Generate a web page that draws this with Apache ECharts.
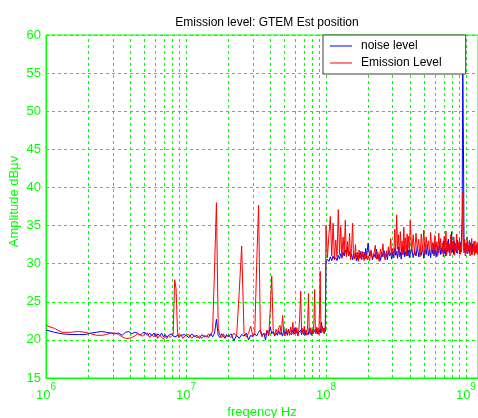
<!DOCTYPE html>
<html><head><meta charset="utf-8">
<script src="https://cdn.jsdelivr.net/npm/echarts@6/dist/echarts.min.js"></script>
<style>html,body{margin:0;padding:0;background:#fff}#c{width:478px;height:418px}</style>
</head><body><div id="c"></div>
<script>
// ---- data (frequencies in MHz, levels in dBµV) ----
const freq1 = [1.0,1.15,1.3,1.5,1.7,1.9,2.1,2.3,2.5,2.7,2.9,3.1,3.3,3.5,3.7,3.9,4.1,4.3,4.5,4.7,4.9,5.1,5.3,5.5,5.7,5.9,6.1,6.3,6.5,6.7,6.9,7.1,7.3,7.5,7.7,7.9,8.1,8.3,8.5,8.7,8.9,9.2,9.5,9.8];
const noise1 = [21.3,21.0,20.8,20.7,20.7,20.7,20.9,21.0,21.1,21.0,20.9,20.8,20.9,20.6,21.0,21.1,20.8,21.0,20.9,20.6,20.9,21.0,20.6,20.9,20.5,20.9,20.4,20.8,20.5,20.9,20.4,20.7,20.3,20.6,20.4,20.8,20.5,20.6,20.4,20.7,20.3,20.6,20.4,20.7];
const emis1 = [21.9,21.5,21.0,21.0,21.1,21.0,20.8,20.6,20.6,20.7,20.9,20.9,20.7,20.4,20.2,20.2,20.3,20.5,20.8,20.7,20.5,20.8,20.9,20.3,20.7,20.4,20.8,20.2,20.6,20.4,20.1,20.5,20.2,20.6,20.3,20.5,20.7,27.9,26.7,21.0,20.4,20.7,20.2,20.5];

const freq2 = [10,10.5,11,11.5,12,12.5,13,13.5,14,14.5,15,15.5,16,16.5,17,17.5,18,18.5,19,19.5];
const noise2 = [20.5,20.3,20.8,20.4,20.6,20.2,20.7,20.4,20.5,20.3,20.8,20.4,20.9,22.7,20.6,20.3,20.8,20.5,20.2,20.7];
const emis2 = [20.4,20.7,20.2,20.6,20.3,20.5,20.2,20.6,20.4,20.8,20.5,21.2,29.3,38.0,21.5,20.6,20.3,20.8,20.4,20.6];

const freq3 = [20,21,22,23,24,25,26,27,28,29,30,31,32,33,34,35,36,37,38,39,40,41,42,43,44,45,46,47,48,49,50,51,52,53,54,55,56,57,58,59,60,61,62,63,64,65,66,67,68,69,70,71,72,73,74,75,76,77,78,79,80,81,82,83,84,85,86,87,88,89,90,91,92,93,94,95,96,97,98,99];
const noise3 = [20.4,20.8,19.9,20.6,20.2,20.7,20.5,20.9,20.0,20.6,
  20.4,20.8,20.5,21.0,21.3,20.6,20.9,20.0,21.2,20.7,
  21.7,20.8,21.1,20.5,20.9,20.6,21.2,20.7,21.0,20.5,
  21.3,20.8,21.1,20.6,21.4,20.9,21.0,20.7,21.3,20.8,
  21.6,20.9,21.2,20.6,21.0,20.8,21.3,20.7,21.1,20.9,
  21.4,20.6,21.0,20.8,21.2,20.7,21.5,20.9,21.1,20.6,
  21.3,20.8,21.0,20.7,21.4,20.9,21.2,20.8,21.5,21.0,
  21.3,20.9,21.6,22.3,21.2,21.0,21.5,20.9,21.4,21.1];
const emis3 = [20.6,20.3,20.9,20.5,26.2,32.3,20.8,20.4,20.9,21.8,
  20.5,20.8,29.9,37.7,21.0,20.4,20.9,20.6,21.3,20.5,
  24.0,28.4,21.2,20.6,21.4,20.8,21.6,21.9,20.7,23.2,
  21.0,20.5,21.5,20.8,21.3,20.6,21.7,20.9,22.3,20.7,
  21.4,20.8,21.6,20.5,21.2,23.0,26.4,21.0,21.5,20.7,
  21.8,20.9,21.3,20.6,22.0,26.1,21.1,20.8,21.6,20.7,
  21.4,20.9,22.2,26.6,21.3,20.8,21.7,21.0,21.5,20.7,
  24.0,29.0,21.4,20.9,21.8,21.1,21.5,20.8,21.6,21.2];

const freq4 = [100,102.5,105,107.5,110,112.5,115,117.5,120,122.5,125,127.5,130,132.5,135,137.5,140,142.5,145,147.5,150,152.5,155,157.5,160,162.5,165,167.5,170,172.5,175,177.5,180,182.5,185,187.5,190,192.5,195,197.5];
const noise4 = [30.2,30.6,30.3,30.9,30.4,31.0,30.5,30.8,30.4,31.1,
  30.6,31.3,30.8,31.5,31.0,31.8,31.2,32.2,31.0,31.6,
  30.7,31.3,30.5,31.1,30.6,31.4,30.4,31.0,30.5,31.3,
  30.7,31.6,30.9,31.2,30.6,31.5,31.0,32.0,30.8,31.7];
const emis4 = [35.0,30.8,33.8,36.2,31.0,35.3,30.6,33.1,30.9,37.1,
  31.2,34.9,30.7,33.5,31.4,35.7,30.9,32.9,31.1,34.0,
  30.5,32.0,35.3,31.0,30.6,32.5,30.8,31.5,30.3,31.8,
  30.7,31.3,30.5,31.6,30.9,30.4,31.4,30.6,31.2,30.5];

const freq5 = [200,205,210,215,220,225,230,235,240,245,250,255,260,265,270,275,280,285,290,295,300,305,310,315,320,325,330,335,340,345,350,355,360,365,370,375,380,385,390,395];
const noise5 = [32.7,31.0,31.6,30.5,31.3,30.8,31.9,30.6,31.2,30.4,
  31.5,30.9,31.7,30.7,31.3,30.5,31.8,31.0,31.4,30.6,
  31.5,30.8,32.0,31.1,31.6,30.7,32.2,31.0,31.5,30.6,
  31.9,31.2,32.3,30.9,31.6,31.1,32.4,31.0,31.8,30.8];
const emis5 = [31.0,30.4,31.8,30.7,31.2,32.4,30.6,31.5,30.3,31.9,
  30.8,32.6,31.1,30.5,31.7,30.9,32.2,31.0,33.3,31.2,
  32.0,30.8,34.5,31.4,36.4,31.9,33.8,30.9,34.2,31.5,
  33.0,31.2,34.8,31.7,33.4,31.0,33.9,32.0,33.6,31.3];

const freq6 = [400,410,420,430,440,450,460,470,480,490,500,510,520,530,540,550,560,570,580,590,600,610,620,630,640,650,660,670,680,690,700,710,720,730,740,750,760,770,780,790,800,810,820,830,840,850,860,870,880,890,900,910,920,930,940,950,960,970,980,990,1000,1010,1020,1030,1040,1050,1060,1070,1080,1090,1100,1110,1120,1130,1140,1150,1160,1170,1180,1190,1200,1210,1220];
const noise6 = [31.2,32.0,30.8,31.7,31.0,32.3,30.9,31.5,31.1,32.4,
  30.7,31.8,31.2,32.5,31.0,31.9,30.8,32.2,31.3,32.6,
  31.1,31.7,30.9,32.3,31.4,32.8,31.2,32.0,31.5,33.0,
  31.3,32.1,31.0,32.7,31.6,33.2,31.4,32.4,31.8,34.2,
  31.5,32.6,31.2,32.9,31.7,32.3,31.4,33.1,31.9,32.5,
  31.3,32.8,31.6,33.4,36.0,56.5,45.6,32.2,31.5,32.7,
  31.8,32.4,31.3,32.9,31.6,32.2,31.4,32.8,31.7,32.3,
  31.2,32.6,31.5,32.1,31.8,32.5,31.3,32.0,31.7,32.4,
  31.5,32.2,31.6];
const emis6 = [35.7,31.5,33.8,31.2,34.0,31.8,33.2,30.9,33.9,31.6,
  34.4,31.3,33.5,31.9,33.0,31.2,34.1,31.7,32.8,31.0,
  33.7,31.5,32.9,31.1,34.0,31.8,33.3,31.3,32.7,30.9,
  33.6,31.6,34.3,31.2,33.0,31.7,32.6,31.0,33.8,31.4,
  32.9,31.9,33.5,31.1,32.7,31.6,33.9,31.3,32.8,31.8,
  33.4,31.2,32.6,31.5,34.0,39.3,32.1,31.4,33.2,31.0,
  32.7,31.6,33.5,31.3,32.4,31.8,33.1,31.0,32.6,31.5,
  33.3,31.2,32.2,31.7,32.9,31.1,33.0,31.6,32.3,31.4,
  32.8,31.2,32.5];

const seriesNames = ['noise level', 'Emission Level'];
const xDecadeExponents = [6, 7, 8, 9];
const gridMantissas = [1, 2, 3, 4, 5, 6, 7, 8, 9];
const xMin = 1e6, xMax = 1.22e9;
const yMin = 15, yMax = 60, yStep = 5;

// ---- build ----
const freqMHz = [].concat(freq1, freq2, freq3, freq4, freq5, freq6);
const noiseLevel = [].concat(noise1, noise2, noise3, noise4, noise5, noise6);
const emissionLevel = [].concat(emis1, emis2, emis3, emis4, emis5, emis6);
const noiseData = freqMHz.map((f, i) => [f * 1e6, noiseLevel[i]]);
const emisData = freqMHz.map((f, i) => [f * 1e6, emissionLevel[i]]);

const gridX = [];
xDecadeExponents.forEach(e => gridMantissas.forEach(m => {
  const v = m * Math.pow(10, e);
  if (v > xMin && v <= xMax) gridX.push({ xAxis: v });
}));

const GREEN = '#00ff00';
const FONT = 'Liberation Sans, Arial, sans-serif';

const chart = echarts.init(document.getElementById('c'), null, { renderer: 'canvas' });
chart.setOption({
  animation: false,
  backgroundColor: '#fff',
  title: {
    text: 'Emission level: GTEM Est position',
    left: 262, top: 12, textAlign: 'center',
    textStyle: { fontFamily: FONT, fontSize: 12, fontWeight: 'normal', color: '#000' }
  },
  grid: {
    left: 46, right: 0, top: 35, bottom: 40, show: true,
    borderColor: GREEN, borderWidth: 1, backgroundColor: '#fff',
    containLabel: false, outerBoundsMode: 'none'
  },
  legend: {
    z: 20, zlevel: 0,
    data: seriesNames, orient: 'vertical', left: 323, top: 35,
    icon: 'rect', itemWidth: 22, itemHeight: 1, itemGap: 3,
    padding: [4, 24, 4, 7],
    backgroundColor: '#fff', borderColor: '#404040', borderWidth: 1,
    textStyle: { color: '#000', fontSize: 12, fontFamily: FONT, lineHeight: 14, padding: [0, 0, 0, 4] }
  },
  xAxis: {
    type: 'log', logBase: 10, min: xMin, max: xMax,
    name: 'freqency Hz', nameLocation: 'middle', nameGap: 28, nameMoveOverlap: false,
    nameTextStyle: { color: GREEN, fontSize: 13, fontFamily: FONT },
    axisLine: { lineStyle: { color: GREEN, width: 1 } },
    axisTick: { show: false },
    splitLine: { show: false },
    axisLabel: {
      margin: 4, color: GREEN, showMaxLabel: false,
      formatter: function (v) {
        const l = Math.log10(v), e = Math.round(l);
        if (Math.abs(l - e) > 1e-6) return '';
        return '{b|10}{s|' + e + '}';
      },
      rich: {
        b: { fontSize: 13, color: GREEN, fontFamily: FONT, padding: [7, 0, 0, 0] },
        s: { fontSize: 10, color: GREEN, fontFamily: FONT, verticalAlign: 'top' }
      }
    }
  },
  yAxis: {
    type: 'value', min: yMin, max: yMax, interval: yStep,
    name: 'Amplitude dBµv', nameLocation: 'middle', nameGap: 25, nameMoveOverlap: false,
    nameTextStyle: { color: GREEN, fontSize: 13, fontFamily: FONT, padding: [0, 0, 0, 10] },
    axisLine: { show: true, lineStyle: { color: GREEN, width: 1 } },
    axisTick: { show: false },
    axisLabel: { margin: 5, color: GREEN, fontSize: 13, fontFamily: FONT },
    splitLine: { show: true, lineStyle: { color: GREEN, type: [3, 3], width: 1 } }
  },
  series: [
    {
      name: 'gridlines', type: 'line', data: [], z: 1, silent: true,
      markLine: {
        z: 1,
        silent: true, symbol: ['none', 'none'], animation: false,
        label: { show: false },
        lineStyle: { color: GREEN, type: [3, 3], width: 1 },
        emphasis: { disabled: true },
        data: gridX
      }
    },
    {
      name: seriesNames[0], type: 'line', data: noiseData, z: 3,
      symbol: 'none', showSymbol: false, sampling: null,
      lineStyle: { color: '#0000ff', width: 1 }, itemStyle: { color: '#0000ff' }
    },
    {
      name: seriesNames[1], type: 'line', data: emisData, z: 4,
      symbol: 'none', showSymbol: false, sampling: null,
      lineStyle: { color: '#ff0000', width: 1 }, itemStyle: { color: '#ff0000' }
    }
  ]
});
</script>
</body></html>
